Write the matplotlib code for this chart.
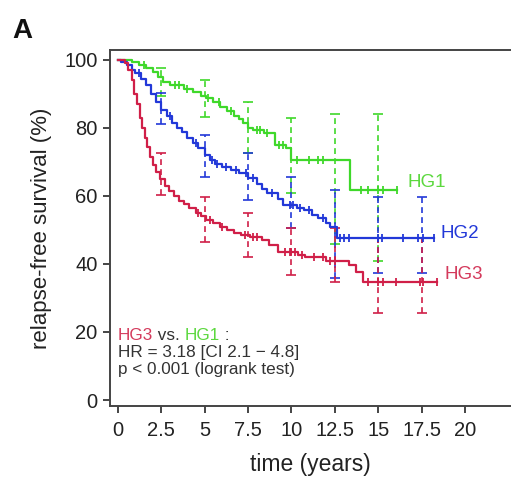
import matplotlib
matplotlib.use("Agg")
import matplotlib.pyplot as plt
import numpy as np

plt.rcParams['font.family'] = ['Liberation Sans', 'DejaVu Sans']

# ---------------- data ----------------
hg1_t = [0, 0.8, 1.2, 1.6, 2.0, 2.3, 2.6, 3.0, 3.8, 4.3, 4.8, 5.1, 5.5, 5.9, 6.3, 6.7, 7.0, 7.2, 7.5, 7.8, 8.4, 9.05, 9.7, 10.0, 13.4]
hg1_s = [100, 99.5, 98.5, 97.5, 96.5, 95, 93.5, 92.6, 91.5, 90.5, 89.5, 88.8, 87.5, 86, 85, 83.5, 82.5, 81.5, 80, 79.4, 78.5, 75, 74, 70.6, 61.8]
hg1_end = 16.1
hg1_cens = [1.5, 3.3, 3.5, 4.0, 5.2, 5.8, 6.5, 8.0, 8.2, 8.6, 9.3, 9.5, 10.3, 11.0, 11.5, 11.8, 14.0, 14.4, 15.0, 15.3, 16.1]

hg2_t = [0, 0.2, 0.5, 0.8, 1.0, 1.3, 1.6, 1.9, 2.2, 2.5, 2.8, 3.1, 3.4, 3.7, 4.0, 4.3, 4.6, 5.0, 5.3, 5.6, 6.0, 6.5, 7.0, 7.5, 8.0, 8.3, 8.6, 9.2, 9.5, 10.3, 10.7, 11.2, 11.5, 12.0, 12.2, 12.6]
hg2_s = [100, 99.5, 98.5, 97, 96, 94.5, 92.5, 90, 87.5, 85.3, 83.5, 81.5, 80, 78.8, 77, 75.5, 74, 72, 70.5, 69.5, 68.5, 67.5, 66.7, 65.3, 63.5, 62, 61, 59, 57.4, 56.5, 55.9, 54.5, 53.5, 52, 51, 47.6]
hg2_end = 18.2
hg2_cens = [1.2, 3.0, 4.5, 5.4, 5.7, 6.2, 6.8, 7.4, 7.8, 8.9, 9.9, 10.1, 10.5, 11.0, 11.8, 12.8, 13.0, 13.3, 15.0, 15.2, 16.4, 17.3, 17.6, 18.2]

hg3_t = [0, 0.4, 0.6, 0.8, 0.95, 1.1, 1.25, 1.4, 1.55, 1.7, 1.85, 2.0, 2.2, 2.45, 2.7, 2.95, 3.2, 3.5, 3.8, 4.1, 4.5, 4.8, 5.1, 5.5, 5.9, 6.3, 6.7, 7.1, 7.6, 8.3, 8.7, 9.2, 10.4, 10.8, 12.0, 13.3, 13.7, 14.1]
hg3_s = [100, 99, 97, 94, 90, 87, 83, 80, 77, 74.5, 71.5, 69, 67, 65, 63, 61.5, 60, 58.5, 57.5, 56.5, 55, 54, 53, 52, 51, 50, 49, 48.5, 48, 47, 45.6, 43.5, 42.5, 42, 41, 39.7, 37.6, 34.7]
hg3_end = 18.4
hg3_cens = [4.6, 5.3, 6.0, 7.3, 7.8, 8.0, 9.6, 9.9, 10.0, 10.2, 10.6, 11.3, 11.8, 12.2, 12.5, 14.4, 15.0, 15.3, 16.0, 17.4, 17.6, 18.4]

ci_t = [2.5, 5, 7.5, 10, 12.5, 15, 17.5]
hg1_ci_lo = [89.5, 83.2, 72.5, 61, 46, 41]
hg1_ci_hi = [97.6, 94, 87.6, 83, 84, 84]
hg2_ci_lo = [81, 65.6, 58.8, 50.6, 36, 37.4, 37.4]
hg2_ci_hi = [90.3, 78, 72.6, 65.6, 61.8, 59.7, 59.7]
hg3_ci_lo = [60.3, 46.5, 42, 36.8, 34.7, 25.6, 25.6]
hg3_ci_hi = [72.6, 59.7, 55, 50.5, 50.6, 47.6, 47.6]

x_ticks = [0, 2.5, 5, 7.5, 10, 12.5, 15, 17.5, 20]
x_labels = ['0', '2.5', '5', '7.5', '10', '12.5', '15', '17.5', '20']
y_ticks = [0, 20, 40, 60, 80, 100]

GREEN = '#3fd82a'
BLUE = '#2238d8'
RED = '#d01f48'
DARK = '#333333'

fig = plt.figure(figsize=(5.11, 4.80), dpi=100)
ax = fig.add_axes([110/511, 1-406/480, 1-110/511, (406-50)/480])

groups = [
    (hg1_t, hg1_s, hg1_end, hg1_cens, hg1_ci_lo, hg1_ci_hi, GREEN),
    (hg2_t, hg2_s, hg2_end, hg2_cens, hg2_ci_lo, hg2_ci_hi, BLUE),
    (hg3_t, hg3_s, hg3_end, hg3_cens, hg3_ci_lo, hg3_ci_hi, RED),
]

for t, s, end, cens, lo, hi, col in groups:
    tt = np.array(t + [end])
    ss = np.array(s + [s[-1]])
    ax.step(tt, ss, where='post', color=col, lw=1.6, zorder=3)
    # censor marks
    cens = np.array(cens)
    idx = np.searchsorted(np.array(t), cens, side='right') - 1
    cs = np.array(s)[idx]
    ax.plot(cens, cs, ls='none', marker='|', ms=6, mew=1.3, color=col, zorder=3)
    # confidence intervals
    ct = np.array(ci_t[:len(lo)])
    ax.vlines(ct, lo, hi, colors=col, linestyles=(0, (3.5, 2.5)), lw=1.2, zorder=2)
    ax.plot(ct, lo, ls='none', marker='_', ms=7, mew=1.2, color=col, zorder=2)
    ax.plot(ct, hi, ls='none', marker='_', ms=7, mew=1.2, color=col, zorder=2)

# group labels
ax.text(16.66, 63.8, 'HG1', color='#5cd83e', fontsize=13.5, va='center', ha='left')
ax.text(18.56, 49.0, 'HG2', color=BLUE, fontsize=13.5, va='center', ha='left')
ax.text(18.8, 36.8, 'HG3', color='#d43a5c', fontsize=13.5, va='center', ha='left')

# annotation
fs = 12.3
t1 = ax.text(0.0, 17.6, 'HG3', color='#d43a5c', fontsize=fs, va='baseline', ha='left')
t2 = ax.annotate(' vs. ', xy=(1, 0), xycoords=t1, va='bottom', ha='left', color=DARK, fontsize=fs)
t3 = ax.annotate('HG1', xy=(1, 0), xycoords=t2, va='bottom', ha='left', color='#5cd83e', fontsize=fs)
ax.annotate(' :', xy=(1, 0), xycoords=t3, va='bottom', ha='left', color=DARK, fontsize=fs)
ax.text(0.0, 12.6, 'HR = 3.18 [CI 2.1 \u2212 4.8]', color=DARK, fontsize=fs, va='baseline', ha='left')
ax.text(0.0, 7.7, 'p < 0.001 (logrank test)', color=DARK, fontsize=fs, va='baseline', ha='left')

ax.set_xlim(-0.46, 22.65)
ax.set_ylim(-1.76, 102.9)
ax.set_xticks(x_ticks)
ax.set_xticklabels(x_labels)
ax.set_yticks(y_ticks)

for side in ['left', 'bottom', 'top']:
    ax.spines[side].set_color('#444444')
    ax.spines[side].set_linewidth(1.4)
ax.spines['right'].set_visible(False)

ax.tick_params(axis='both', direction='out', length=5, width=1.4, color='#444444',
               labelsize=14.5, labelcolor='#222222')
ax.tick_params(axis='x', pad=6)
ax.tick_params(axis='y', pad=4)

ax.set_xlabel('time (years)', fontsize=16.5, color='#222222', labelpad=9)
ax.set_ylabel('relapse-free survival (%)', fontsize=16, color='#222222', labelpad=9)

fig.text(12/511, 1-31/480, 'A', fontsize=20, fontweight='bold', va='center', ha='left', color='#111111')

fig.savefig('out.png', dpi=100)
